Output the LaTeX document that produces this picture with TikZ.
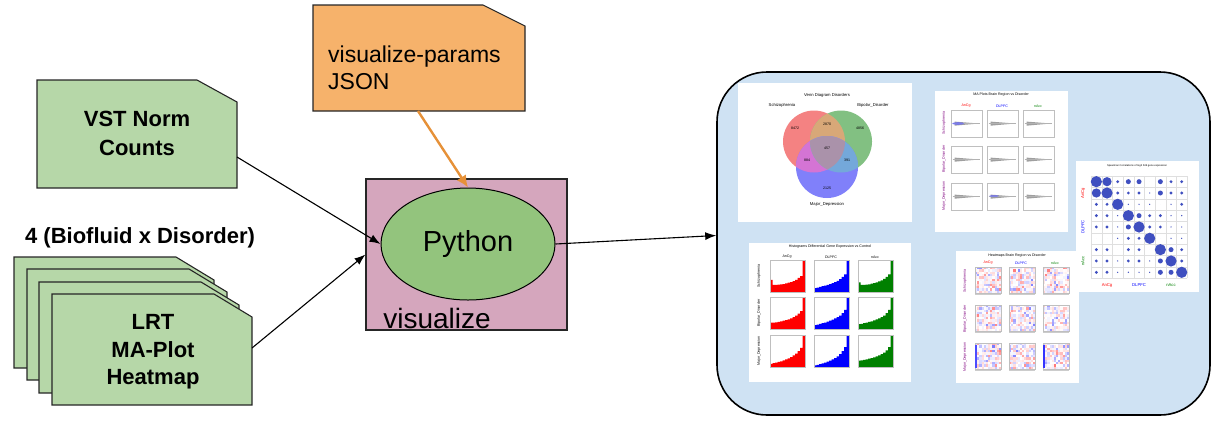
\documentclass[tikz,border=0pt]{standalone}
\usepackage{fontspec}
\setmainfont{Liberation Sans}
\usetikzlibrary{shapes.geometric,arrows.meta}
\definecolor{docgreen}{HTML}{B6D7A8}
\definecolor{docorange}{HTML}{F6B26B}
\definecolor{vizpurple}{HTML}{D5A6BD}
\definecolor{pygreen}{HTML}{93C47D}
\definecolor{panelblue}{HTML}{CFE2F3}
\definecolor{arrorange}{HTML}{E69138}
\definecolor{vr}{HTML}{F48282}
\definecolor{vg}{HTML}{82C082}
\definecolor{vb}{HTML}{8080FA}
\definecolor{vrg}{HTML}{D8A878}
\definecolor{vrb}{HTML}{D474D4}
\definecolor{vgb}{HTML}{74A8DA}
\definecolor{vrgb}{HTML}{AA92AA}
\definecolor{corrblue}{HTML}{3F4FC0}
\definecolor{mplgreen}{HTML}{008000}
\newcommand\mydoc[7]{\filldraw[docline,fill=#7] (#1,#2) -- ({#3-#5},#2) -- (#3,{#2+#6}) -- (#3,#4) -- (#1,#4) -- cycle;}
\newcommand\hist[6]{%
  \fill[#5] (#1,#2) \foreach \v [count=\i from 0] in {#6} { -- ({#1+\i*#3/14},{#2-\v*#4}) -- ({#1+(\i+1)*#3/14},{#2-\v*#4}) } -- ({#1+#3},#2) -- cycle;
  \draw[gray!50,line width=0.2pt] (#1,{#2-#4}) rectangle ({#1+#3},#2);}
\newcommand\masmear[4]{%
  \draw[gray!50,line width=0.2pt] (#1,#2) rectangle ({#1+#3},{#2+#4});
  \fill[gray!75] ({#1+0.12*#3},{#2+0.43*#4}) -- ({#1+0.9*#3},{#2+0.5*#4}) -- ({#1+0.12*#3},{#2+0.58*#4}) -- cycle;
  \draw[gray!60,line width=0.3pt] ({#1+0.05*#3},{#2+0.5*#4}) -- ({#1+0.95*#3},{#2+0.5*#4});}
\newcommand\heat[4]{%
  \foreach \i in {0,...,11}{\foreach \j in {0,...,10}{%
    \pgfmathsetmacro\rr{rnd}\pgfmathtruncatemacro\ss{rnd*rnd*55}%
    \ifdim\rr pt<0.5pt \fill[red!\ss] ({#1+\i*#3/12},{#2+\j*#4/11}) rectangle ++({#3/12},{#4/11});
    \else \fill[blue!\ss] ({#1+\i*#3/12},{#2+\j*#4/11}) rectangle ++({#3/12},{#4/11}); \fi}}
  \fill[gray!40] (#1,{#2+#4}) rectangle ({#1+#3},{#2+#4+2});
  \draw[gray!50,line width=0.2pt] (#1,#2) rectangle ({#1+#3},{#2+#4});}
\begin{document}
\begin{tikzpicture}[x=1pt,y=-1pt,
  docline/.style={draw=black!85,line width=1.1pt},
  bigbold/.style={font=\fontsize{22}{29}\selectfont\bfseries,align=center},
  arr/.style={draw=black,line width=1.1pt,-{Latex[length=11pt,width=8pt]}},
  oarr/.style={draw=arrorange,line width=2.4pt,-{Latex[length=12pt,width=11pt]}},
  tiny/.style={font=\fontsize{3.6}{4}\selectfont,inner sep=0pt},
  tinyl/.style={font=\fontsize{4.2}{5}\selectfont,inner sep=0pt},
  thumb/.style={fill=white,draw=none}]
\useasboundingbox (0,0) rectangle (1230,440);

% ---------- left documents ----------
\mydoc{37}{80}{237}{188}{40}{22}{docgreen}
\node[bigbold] (vst) at (137,133) {VST Norm\\Counts};
\coordinate (vstR) at (237,157);

\node[font=\fontsize{22}{26}\selectfont\bfseries] (bio) at (140,238) {4 (Biofluid x Disorder)};

\mydoc{14}{257}{214}{368}{38}{23}{docgreen}
\mydoc{27}{269}{227}{380}{38}{23}{docgreen}
\mydoc{39}{282}{239}{393}{38}{23}{docgreen}
\mydoc{52}{294}{252}{405}{38}{23}{docgreen}
\node[font=\fontsize{22}{27.5}\selectfont\bfseries,align=center] (lrt) at (153,352) {LRT\\MA-Plot\\Heatmap};
\coordinate (lrtR) at (252,348);

% ---------- JSON ----------
\mydoc{313}{5}{525}{111}{42}{21}{docorange}
\node[anchor=west,align=left,font=\fontsize{23}{27}\selectfont,inner sep=0pt] (json) at (328,68) {visualize-params\\JSON};
\coordinate (jsonB) at (418,111);

% ---------- visualize box ----------
\node[draw=black!85,line width=1.1pt,fill=vizpurple,minimum width=201pt,minimum height=151pt,inner sep=0pt] (viz) at (466.5,254.5) {};
\node[font=\fontsize{28}{30}\selectfont,inner sep=0pt] (vizlab) at (437,318) {visualize};
\node[ellipse,draw=black,line width=1pt,fill=pygreen,minimum width=174pt,minimum height=112pt,font=\fontsize{29}{30}\selectfont] (py) at (468,244) {Python};

% ---------- output panel ----------
\node[draw=black,line width=1.6pt,fill=panelblue,rounded corners=50pt,minimum width=493pt,minimum height=343pt,inner sep=0pt] (panel) at (963.5,243.5) {};

% ---------- connectors ----------
\draw[arr] (vstR) -- (py.west);
\draw[arr] (lrtR) -- (viz.west);
\draw[oarr] (jsonB) -- (py.north);
\draw[arr] (py.east) -- ([yshift=8pt]panel.west);

% ---------- Venn thumbnail ----------
\fill[thumb] (738,83) rectangle (912,222);
\fill[vr] (814,141.5) circle[radius=31pt];
\fill[vg] (841,141.5) circle[radius=31pt];
\fill[vb] (827,167) circle[radius=31pt];
\begin{scope}\clip (814,141.5) circle[radius=31pt]; \fill[vrg] (841,141.5) circle[radius=31pt];\end{scope}
\begin{scope}\clip (814,141.5) circle[radius=31pt]; \fill[vrb] (827,167) circle[radius=31pt];\end{scope}
\begin{scope}\clip (841,141.5) circle[radius=31pt]; \fill[vgb] (827,167) circle[radius=31pt];\end{scope}
\begin{scope}\clip (814,141.5) circle[radius=31pt]; \clip (841,141.5) circle[radius=31pt]; \fill[vrgb] (827,167) circle[radius=31pt];\end{scope}
\node[tinyl] (vt) at (827,95) {Venn Diagram Disorders};
\node[tinyl] (vs) at (782,105) {Schizophrenia};
\node[tinyl] (vbd) at (873,105) {Bipolar\_Disorder};
\node[tinyl] (vmd) at (827,204) {Major\_Depression};
\node[tiny] (n1) at (795,128) {8472};
\node[tiny] (n2) at (827,124) {2870};
\node[tiny] (n3) at (860,128) {4856};
\node[tiny] (n4) at (827,148) {457};
\node[tiny] (n5) at (807,160) {884};
\node[tiny] (n6) at (847,160) {391};
\node[tiny] (n7) at (827,188) {2125};

% ---------- MA plot thumbnail ----------
\fill[thumb] (935,91) rectangle (1068,232);
\node[tiny] (mat) at (1001,95) {MA Plots Brain Region vs Disorder};
\node[tiny,text=red] (ma1) at (966,106) {AnCg};
\node[tiny,text=blue] (ma2) at (1002,106) {DLPFC};
\node[tiny,text=mplgreen] (ma3) at (1038,106) {nAcc};
\foreach \xx in {951,987,1023}{\foreach \yy in {110,146,183}{\masmear{\xx}{\yy}{31}{27}}}
\fill[blue!60,opacity=0.7] (958,123.5) ellipse[x radius=6pt,y radius=1.3pt];
\fill[blue!60,opacity=0.6] (994,196) ellipse[x radius=5pt,y radius=1pt];
\node[tiny,text=violet,rotate=90] (mar1) at (944,123) {Schizophrenia};
\node[tiny,text=violet,rotate=90] (mar2) at (944,159) {Bipolar\_Disorder};
\node[tiny,text=violet,rotate=90] (mar3) at (944,196) {Major\_Depression};

% ---------- correlation thumbnail ----------
\fill[thumb] (1076,161) rectangle (1199,292);
\node[font=\fontsize{2.6}{3}\selectfont,inner sep=0pt] (ct) at (1137,166) {Spearman Correlations of log2 fold gene expression};
\foreach \k in {0,...,9}{
  \draw[gray!25,line width=0.2pt] ({1091+\k*10.67},176) -- ({1091+\k*10.67},278);
  \draw[gray!25,line width=0.2pt] (1091,{176+\k*11.33}) -- (1187,{176+\k*11.33});}
\foreach \row [count=\r from 0] in {{5,4,2,3,3,0,3,2,2},{4,5,2,2,2,1,3,2,2},{2,2,5,1,1,1,0,1,2},{2,2,1,5,3,2,2,1,1},{2,2,1,3,5,2,2,1,1},{0,0,1,2,2,5,0,1,1},{2,2,0,2,2,0,5,3,2},{2,2,1,2,2,1,3,5,2},{2,2,1,1,1,1,3,3,5}}{
  \foreach \v [count=\c from 0] in \row {
    \pgfmathsetmacro\rad{{0,0.7,1.6,2.5,4.6,5.6}[\v]}
    \fill[corrblue] ({1091+(\c+0.5)*10.67},{176+(\r+0.5)*11.33}) circle[radius=\rad pt];}}
\node[tinyl,text=red,rotate=90] (c1) at (1083,193) {AnCg};
\node[tinyl,text=blue,rotate=90] (c2) at (1083,227) {DLPFC};
\node[tinyl,text=mplgreen,rotate=90] (c3) at (1083,261) {nAcc};
\node[tinyl,text=red] (c4) at (1107,285) {AnCg};
\node[tinyl,text=blue] (c5) at (1139,285) {DLPFC};
\node[tinyl,text=mplgreen] (c6) at (1171,285) {nAcc};

% ---------- histogram thumbnail ----------
\fill[thumb] (749,243) rectangle (911,382);
\node[tiny] (ht) at (830,247) {Histograms Differential Gene Expression vs Control};
\node[tiny] (h1) at (787,257) {AnCg};
\node[tiny] (h2) at (831,257) {DLPFC};
\node[tiny] (h3) at (875,257) {nAcc};
\hist{770}{292}{35}{32}{red}{0.38,0.22,0.22,0.23,0.24,0.25,0.27,0.29,0.31,0.34,0.38,0.44,0.5,1}
\hist{814}{292}{35}{32}{blue}{0.12,0.14,0.16,0.18,0.2,0.22,0.25,0.28,0.31,0.35,0.4,0.47,0.55,1}
\hist{858}{292}{35}{32}{mplgreen}{0.3,0.22,0.22,0.23,0.24,0.26,0.28,0.3,0.33,0.36,0.41,0.47,0.55,1}
\hist{770}{329}{35}{32}{red}{0.2,0.2,0.21,0.22,0.24,0.26,0.28,0.3,0.33,0.37,0.42,0.48,0.56,1}
\hist{814}{329}{35}{32}{blue}{0.12,0.14,0.16,0.18,0.2,0.23,0.26,0.29,0.33,0.37,0.42,0.5,0.6,1}
\hist{858}{329}{35}{32}{mplgreen}{0.15,0.16,0.18,0.2,0.22,0.24,0.27,0.3,0.33,0.37,0.42,0.5,0.6,1}
\hist{770}{367}{35}{32}{red}{0.1,0.12,0.14,0.16,0.18,0.21,0.24,0.27,0.31,0.36,0.42,0.5,0.6,1}
\hist{814}{367}{35}{32}{blue}{0.05,0.07,0.09,0.11,0.14,0.17,0.2,0.24,0.28,0.33,0.4,0.5,0.62,1}
\hist{858}{367}{35}{32}{mplgreen}{0.2,0.21,0.22,0.24,0.26,0.28,0.3,0.33,0.36,0.4,0.45,0.52,0.62,1}
\node[tiny,rotate=90] (hr1) at (759,276) {Schizophrenia};
\node[tiny,rotate=90] (hr2) at (759,313) {Bipolar\_Disorder};
\node[tiny,rotate=90] (hr3) at (759,351) {Major\_Depression};

% ---------- heatmap thumbnail ----------
\fill[thumb] (956,251) rectangle (1079,383);
\node[tiny] (hmt) at (1017,256) {Heatmaps Brain Region vs Disorder};
\node[tiny,text=red] (hm1) at (988,263) {AnCg};
\node[tiny,text=blue] (hm2) at (1021,263) {DLPFC};
\node[tiny,text=mplgreen] (hm3) at (1055,263) {nAcc};
\pgfmathsetseed{7}
\foreach \xx in {975,1009,1043}{\foreach \yy in {267,305,343}{\heat{\xx}{\yy}{26}{26}}}
\fill[blue!70] (975,345) rectangle (977,368);
\fill[blue!80] (1043,345) rectangle (1044.5,368);
\node[tiny,text=violet,rotate=90] (hmr1) at (965,281) {Schizophrenia};
\node[tiny,text=violet,rotate=90] (hmr2) at (965,319) {Bipolar\_Disorder};
\node[tiny,text=violet,rotate=90] (hmr3) at (965,357) {Major\_Depression};
\end{tikzpicture}
\end{document}
